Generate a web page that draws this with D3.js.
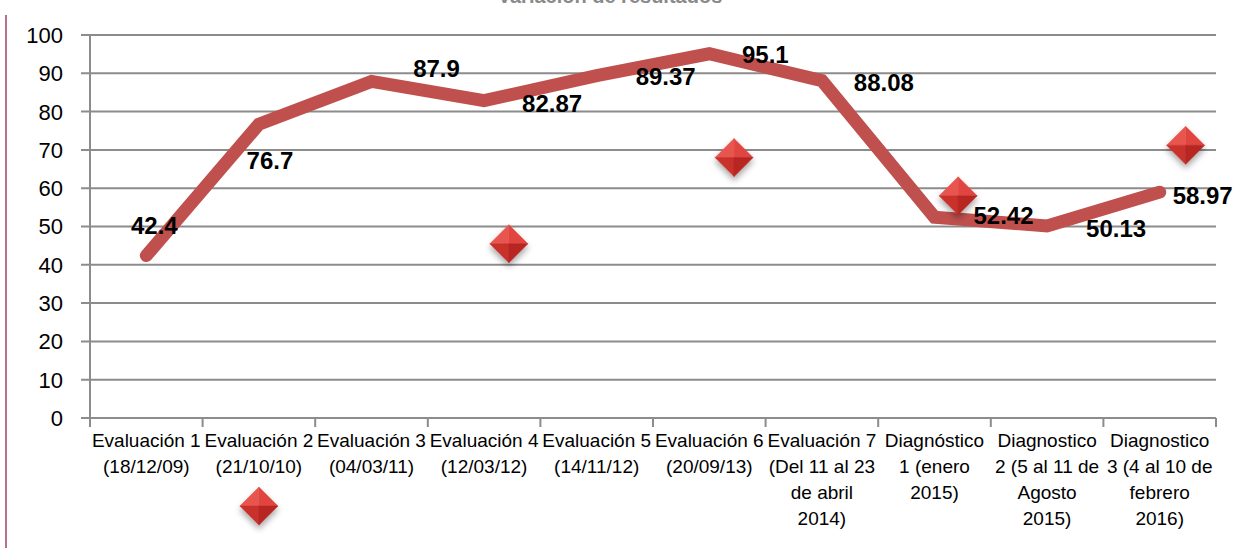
<!DOCTYPE html>
<html>
<head>
<meta charset="utf-8">
<script src="https://cdn.jsdelivr.net/npm/d3@7"></script>
<style>
  body { margin: 0; background: #fff; }
  svg { display: block; font-family: "Liberation Sans", Arial, sans-serif; }
  .grid line { stroke: #8c8c8c; stroke-width: 2; }
  .tick-label { font-size: 22px; fill: #000; }
  .cat-label { font-size: 19px; fill: #000; }
  .val-label { font-size: 24px; font-weight: bold; fill: #000; }
</style>
</head>
<body>
<svg id="chart" width="1241" height="550"></svg>
<script>
// categories (x axis), each as its lines of text
var categories = [
  ["Evaluación 1", "(18/12/09)"],
  ["Evaluación 2", "(21/10/10)"],
  ["Evaluación 3", "(04/03/11)"],
  ["Evaluación 4", "(12/03/12)"],
  ["Evaluación 5", "(14/11/12)"],
  ["Evaluación 6", "(20/09/13)"],
  ["Evaluación 7", "(Del 11 al 23", "de abril", "2014)"],
  ["Diagnóstico", "1 (enero", "2015)"],
  ["Diagnostico", "2 (5 al 11 de", "Agosto", "2015)"],
  ["Diagnostico", "3 (4 al 10 de", "febrero", "2016)"]
];

// main series
var scores = [42.4, 76.7, 87.9, 82.87, 89.37, 95.1, 88.08, 52.42, 50.13, 58.97];

// second series: marker only (category position, value)
var markerPos = [1, 3.22, 5.22, 7.21, 9.23];
var markerVals = [-23, 45.5, 68, 58, 71.2];

var yTicks = [0, 10, 20, 30, 40, 50, 60, 70, 80, 90, 100];

// label nudges in px (dx, dy) — labels were hand placed in the original
var labelShift = [[8,-30],[11,36],[65,-13],[68,3],[69,1],[56,1],[62,2],[69,-2],[69,2],[43,3]];

var svg = d3.select("#chart");
var pLeft = 90, pRight = 1216, pTop = 35, pBottom = 418;

var x = d3.scaleBand().domain(d3.range(categories.length)).range([pLeft, pRight]);
var xPos = d3.scaleLinear().domain([-0.5, categories.length - 0.5]).range([pLeft, pRight]);
var y = d3.scaleLinear().domain([0, 100]).range([pBottom, pTop]);

// outer left border
svg.append("line")
    .attr("x1", 6).attr("x2", 6).attr("y1", 15).attr("y2", 548)
    .attr("stroke", "#a0406a").attr("stroke-width", 1.5);

// partly hidden title (cut off at the top, as in the original)
svg.append("text")
    .attr("x", 610).attr("y", 3)
    .attr("text-anchor", "middle")
    .style("font-size", "20px").style("font-weight", "bold").style("fill", "#8a8a8a")
    .text("Variación de resultados");

// gridlines + y labels
var grid = svg.append("g").attr("class", "grid");
grid.selectAll("line").data(yTicks).enter().append("line")
    .attr("x1", pLeft - 9).attr("x2", pRight)
    .attr("y1", function(d) { return y(d); })
    .attr("y2", function(d) { return y(d); });

svg.selectAll(".tick-label").data(yTicks).enter().append("text")
    .attr("class", "tick-label")
    .attr("x", 63)
    .attr("y", function(d) { return y(d); })
    .attr("dy", "0.36em")
    .attr("text-anchor", "end")
    .text(function(d) { return d; });

// y axis line
svg.append("line")
    .attr("x1", pLeft).attr("x2", pLeft).attr("y1", pTop).attr("y2", pBottom + 9)
    .attr("stroke", "#8c8c8c").attr("stroke-width", 2);

// x boundary ticks
var bounds = d3.range(categories.length).map(function(i) { return x(i); }).concat([pRight]);
svg.selectAll(".xtick").data(bounds.slice(1)).enter().append("line")
    .attr("class", "xtick")
    .attr("x1", function(d) { return d; }).attr("x2", function(d) { return d; })
    .attr("y1", pBottom).attr("y2", pBottom + 9)
    .attr("stroke", "#8c8c8c").attr("stroke-width", 2);

// category labels
var cl = svg.selectAll(".cat-label").data(categories).enter().append("text")
    .attr("class", "cat-label")
    .attr("text-anchor", "middle")
    .attr("x", function(d, i) { return x(i) + x.bandwidth() / 2; })
    .attr("y", 447);
cl.selectAll("tspan").data(function(d, i) { return d.map(function(t) { return {t: t, i: i}; }); })
    .enter().append("tspan")
    .attr("x", function(d) { return x(d.i) + x.bandwidth() / 2; })
    .attr("dy", function(d, j) { return j === 0 ? 0 : 26; })
    .text(function(d) { return d.t; });

// main line
var line = d3.line()
    .x(function(d, i) { return x(i) + x.bandwidth() / 2; })
    .y(function(d) { return y(d); });
svg.append("path")
    .datum(scores)
    .attr("d", line)
    .attr("fill", "none")
    .attr("stroke", "#c0504d")
    .attr("stroke-width", 13)
    .attr("stroke-linecap", "round")
    .attr("stroke-linejoin", "miter");

// diamond defs
var defs = svg.append("defs");
var f = defs.append("filter").attr("id", "shadow").attr("x", "-50%").attr("y", "-50%").attr("width", "200%").attr("height", "200%");
f.append("feDropShadow").attr("dx", 0).attr("dy", 4).attr("stdDeviation", 3).attr("flood-color", "#000").attr("flood-opacity", 0.35);

var r = 19;
var facets = [
  {pts: [[0,-r],[r,0],[0,0]], c: "#e0443f"},
  {pts: [[0,-r],[-r,0],[0,0]], c: "#e85550"},
  {pts: [[-r,0],[0,r],[0,0]], c: "#c8302c"},
  {pts: [[r,0],[0,r],[0,0]], c: "#b82522"}
];
var md = markerPos.map(function(p, i) { return {p: p, v: markerVals[i]}; });
var mk = svg.selectAll(".marker").data(md).enter().append("g")
    .attr("class", "marker")
    .attr("filter", "url(#shadow)")
    .attr("transform", function(d) { return "translate(" + xPos(d.p) + "," + y(d.v) + ")"; });
facets.forEach(function(fc) {
  mk.append("path")
    .attr("d", "M" + fc.pts.join("L") + "Z")
    .attr("fill", fc.c)
    .attr("stroke", fc.c).attr("stroke-width", 0.5);
});

// value labels
svg.selectAll(".val-label").data(scores).enter().append("text")
    .attr("class", "val-label")
    .attr("text-anchor", "middle")
    .attr("x", function(d, i) { return x(i) + x.bandwidth() / 2 + labelShift[i][0]; })
    .attr("y", function(d, i) { return y(d) + labelShift[i][1]; })
    .attr("dy", "0.36em")
    .text(function(d) { return d; });
</script>
</body>
</html>
